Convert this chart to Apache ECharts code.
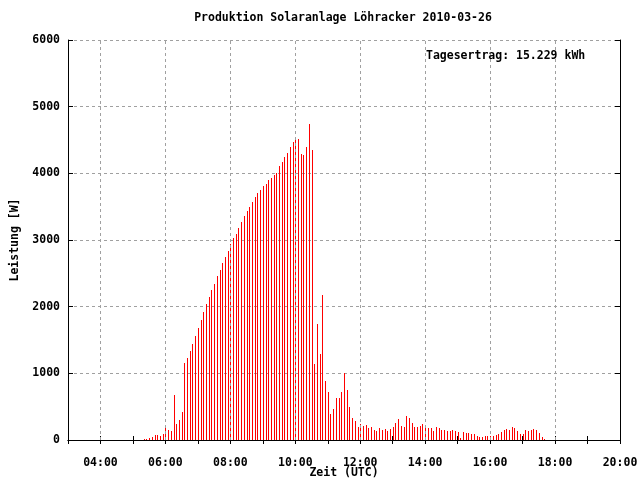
<!DOCTYPE html>
<html><head><meta charset="utf-8">
<script src="https://cdn.jsdelivr.net/npm/echarts@6/dist/echarts.min.js"></script>
<style>html,body{margin:0;padding:0;background:#fff}#c{width:640px;height:480px}</style>
</head><body><div id="c"></div>
<script>
const titleText = 'Produktion Solaranlage Löhracker 2010-03-26';
const yieldText = 'Tagesertrag: 15.229 kWh';
const xName = 'Zeit (UTC)';
const yName = 'Leistung [W]';
const gridHours = [4, 6, 8, 10, 12, 14, 16, 18];
const times = [
 '05:20','05:25','05:30','05:35','05:40','05:45','05:50','05:55',
 '06:00','06:05','06:10','06:15','06:20','06:25','06:30','06:35','06:40','06:45','06:50','06:55',
 '07:00','07:05','07:10','07:15','07:20','07:25','07:30','07:35','07:40','07:45','07:50','07:55',
 '08:00','08:05','08:10','08:15','08:20','08:25','08:30','08:35','08:40','08:45','08:50','08:55',
 '09:00','09:05','09:10','09:15','09:20','09:25','09:30','09:35','09:40','09:45','09:50','09:55',
 '10:00','10:05','10:10','10:15','10:20','10:25','10:30','10:35','10:40','10:45','10:50','10:55',
 '11:00','11:05','11:10','11:15','11:20','11:25','11:30','11:35','11:40','11:45','11:50','11:55',
 '12:00','12:05','12:10','12:15','12:20','12:25','12:30','12:35','12:40','12:45','12:50','12:55',
 '13:00','13:05','13:10','13:15','13:20','13:25','13:30','13:35','13:40','13:45','13:50','13:55',
 '14:00','14:05','14:10','14:15','14:20','14:25','14:30','14:35','14:40','14:45','14:50','14:55',
 '15:00','15:05','15:10','15:15','15:20','15:25','15:30','15:35','15:40','15:45','15:50','15:55',
 '16:00','16:05','16:10','16:15','16:20','16:25','16:30','16:35','16:40','16:45','16:50','16:55',
 '17:00','17:05','17:10','17:15','17:20','17:25','17:30','17:35','17:40'
];
const power = [
 10,15,25,45,75,75,60,90,225,150,135,675,240,300,420,1155,1230,1335,1440,1560,1680,1800,1920,2040,2145,2250,2340,
 2460,2550,2655,2745,2835,2940,3030,3090,3180,3270,3360,3435,3495,3570,3645,3705,3750,3810,3840,3900,3930,3975,4005,4110,4170,4245,
 4305,4395,4470,4545,4515,4290,4275,4395,4740,4350,1140,1740,1290,2175,885,720,390,465,630,630,720,1005,750,495,330,
 285,195,240,210,225,180,195,150,135,180,150,165,135,165,195,255,315,210,195,360,330,255,195,195,210,240,
 195,180,180,135,195,180,150,150,135,135,150,135,120,30,120,105,105,90,90,60,45,45,60,60,60,60,75,90,120,150,
 165,150,195,180,135,90,90,150,135,150,165,150,105,45,15
];

const FONT = '"DejaVu Sans Mono", "Liberation Mono", monospace';
const FS = 11.5;
function toHours(t) { const p = t.split(':'); return +p[0] + (+p[1]) / 60; }
function pad(n) { return (n < 10 ? '0' : '') + n; }
const gridStyle = { color: '#a0a0a0', width: 1, type: [3, 3] };
const lbl = { color: '#000', fontFamily: FONT, fontSize: FS, fontWeight: 'bold' };

const chart = echarts.init(document.getElementById('c'), null, { renderer: 'canvas' });
chart.setOption({
  animation: false,
  backgroundColor: '#fff',
  grid: { left: 68, right: 20, top: 40, bottom: 40, show: false, containLabel: false, outerBoundsMode: 'none' },
  xAxis: [
    {
      type: 'value', position: 'bottom', min: 3, max: 20, interval: 1,
      axisLine: { show: true, lineStyle: { color: '#000', width: 1 } },
      axisTick: { show: true, inside: true, length: 4, lineStyle: { color: '#000' } },
      axisLabel: Object.assign({ margin: 17, formatter: v => (v % 2 === 0 ? pad(v) + ':00' : '') }, lbl),
      splitLine: { show: false },
      name: xName, nameLocation: 'middle', nameGap: 27, nameMoveOverlap: false, nameTextStyle: lbl
    },
    {
      type: 'value', position: 'top', min: 3, max: 20, interval: 1,
      axisLine: { show: true, lineStyle: { color: '#000', width: 1 } },
      axisTick: { show: true, inside: true, length: 4, lineStyle: { color: '#000' } },
      axisLabel: { show: false }, splitLine: { show: false }
    }
  ],
  yAxis: [
    {
      type: 'value', position: 'left', min: 0, max: 6000, interval: 1000,
      axisLine: { show: true, lineStyle: { color: '#000', width: 1 } },
      axisTick: { show: true, inside: true, length: 5, lineStyle: { color: '#000' } },
      axisLabel: Object.assign({ margin: 8, formatter: v => String(v) }, lbl),
      splitLine: { show: true, lineStyle: gridStyle },
      name: yName, nameLocation: 'middle', nameGap: 47, nameRotate: 90, nameMoveOverlap: false, nameTextStyle: lbl
    },
    {
      type: 'value', position: 'right', min: 0, max: 6000, interval: 1000,
      axisLine: { show: true, lineStyle: { color: '#000', width: 1 } },
      axisTick: { show: true, inside: true, length: 5, lineStyle: { color: '#000' } },
      axisLabel: { show: false }, splitLine: { show: false }
    }
  ],
  series: [
    {
      type: 'line', xAxisIndex: 0, yAxisIndex: 0, data: [], z: 1, silent: true,
      markLine: {
        silent: true, symbol: ['none', 'none'], label: { show: false },
        lineStyle: gridStyle,
        data: gridHours.map(h => ({ xAxis: h }))
      }
    },
    {
      type: 'custom', xAxisIndex: 0, yAxisIndex: 0, z: 3, silent: true,
      data: times.map((t, i) => [toHours(t), power[i]]),
      renderItem: function (params, api) {
        const top = api.coord([api.value(0), api.value(1)]);
        const base = api.coord([api.value(0), 0]);
        const x = Math.round(top[0]);
        const y0 = Math.round(top[1]);
        return {
          type: 'rect',
          shape: { x: x, y: y0, width: 1, height: Math.round(base[1]) - y0 },
          style: { fill: '#ff0000' }
        };
      }
    }
  ],
  graphic: [
    { type: 'text', z: 100, style: { x: 343, y: 18, text: titleText, textAlign: 'center', textVerticalAlign: 'middle', font: 'bold ' + FS + 'px ' + FONT, fill: '#000' } },
    { type: 'text', z: 100, style: { x: 426, y: 56, text: yieldText, textAlign: 'left', textVerticalAlign: 'middle', font: 'bold ' + FS + 'px ' + FONT, fill: '#000' } }
  ]
});
</script>
</body></html>
